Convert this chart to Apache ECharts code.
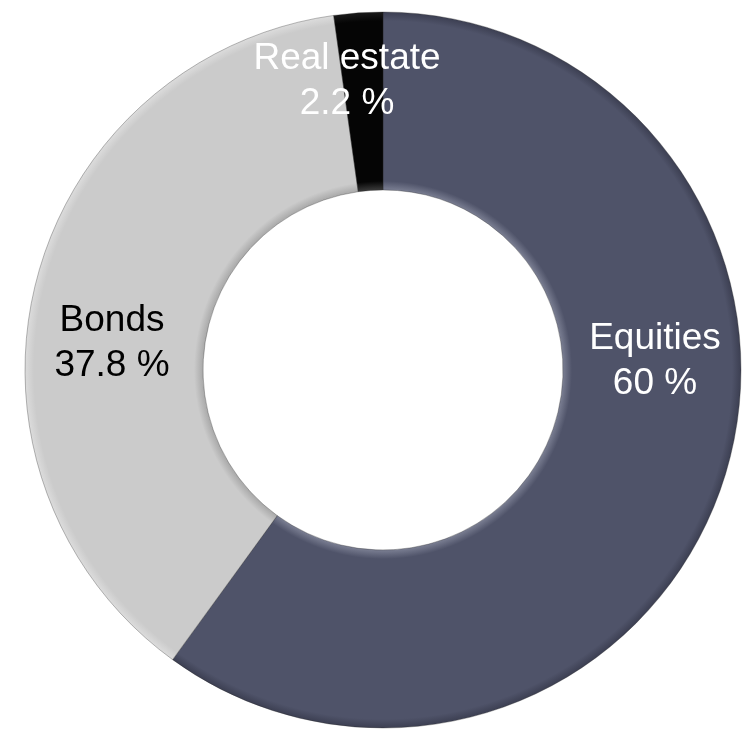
<!DOCTYPE html>
<html>
<head>
<meta charset="utf-8">
<style>
  html, body { margin: 0; padding: 0; background: #ffffff; }
  #chart { width: 742px; height: 731px; }
</style>
<script src="https://cdn.jsdelivr.net/npm/echarts@6/dist/echarts.min.js"></script>
</head>
<body>
<div id="chart"></div>
<script>
// Asset allocation (percent of portfolio)
const categories = ['Equities', 'Bonds', 'Real estate'];
const shares = [60, 37.8, 2.2];

// Ring geometry and per-slice styling
const CX = 383, CY = 370, R_IN = 180, R_OUT = 358;
const labelColors = ['#ffffff', '#000000', '#ffffff'];
// Where each two-line label is centred
const labelCentres = [[655, 361], [112, 343], [347, 81]];

// Radial shading that lightens the inner rim and darkens the outer rim
function bevel(base, light, dark) {
  const f = R_IN / R_OUT;
  return {
    type: 'radial', x: CX, y: CY, r: R_OUT, global: true,
    colorStops: [
      { offset: 0, color: light },
      { offset: f, color: light },
      { offset: f + 0.025, color: base },
      { offset: 0.975, color: base },
      { offset: 1, color: dark }
    ]
  };
}
const shades = [
  bevel('#4f5369', '#7a7e92', '#3c3f52'),
  bevel('#cbcbcb', '#a9a9a9', '#dcdcdc'),
  bevel('#050505', '#3a3a3a', '#1a1a1a')
];

const chart = echarts.init(document.getElementById('chart'), null, { renderer: 'canvas' });

chart.setOption({
  animation: false,
  backgroundColor: '#ffffff',
  series: [{
    type: 'pie',
    center: [CX, CY],
    radius: [R_IN, R_OUT],
    startAngle: 90,
    clockwise: true,
    avoidLabelOverlap: false,
    label: {
      show: true,
      position: 'inside',
      formatter: '{b}\n{c} %',
      fontFamily: '"Liberation Sans", Arial, sans-serif',
      fontSize: 37,
      lineHeight: 45,
      align: 'center'
    },
    labelLine: { show: false },
    labelLayout: function (p) {
      const c = labelCentres[p.dataIndex];
      return { x: c[0], y: c[1], align: 'center', verticalAlign: 'middle' };
    },
    emphasis: { disabled: true },
    data: categories.map((name, i) => ({
      name: name,
      value: shares[i],
      itemStyle: { color: shades[i], borderWidth: 0.6, borderColor: 'rgba(40,40,40,0.55)' },
      label: { color: labelColors[i] }
    }))
  }]
});
</script>
</body>
</html>
